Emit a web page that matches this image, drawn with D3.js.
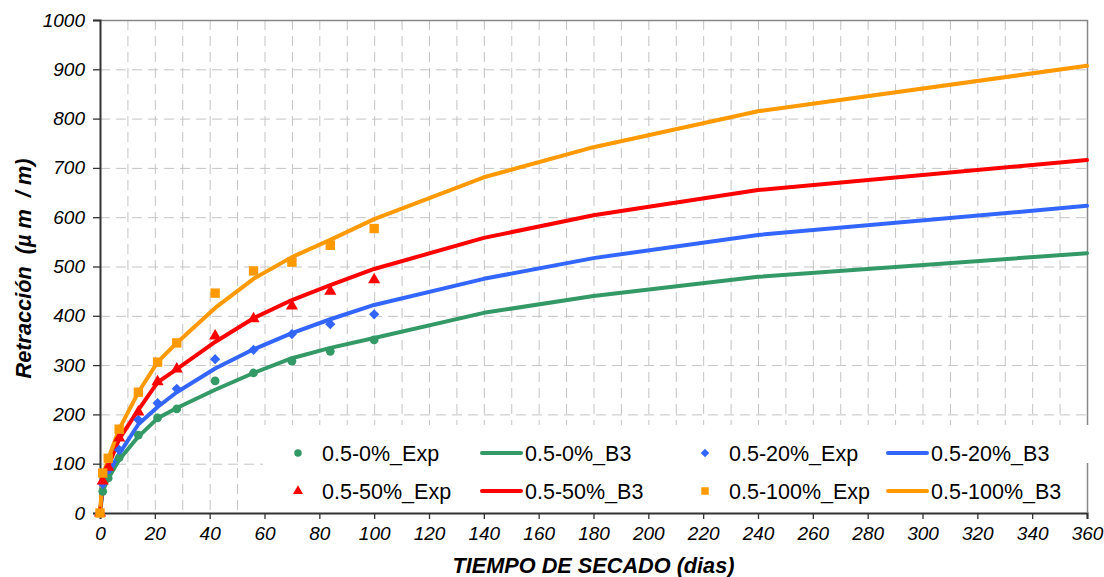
<!DOCTYPE html>
<html>
<head>
<meta charset="utf-8">
<script src="https://cdn.jsdelivr.net/npm/d3@7"></script>
<style>
  html, body { margin: 0; padding: 0; background: #fff; }
  svg { display: block; font-family: "Liberation Sans", Arial, sans-serif; }
</style>
</head>
<body>
<svg id="chart" width="1104" height="577"></svg>
<script>
// Drying days of the experimental readings
const expDays = [0, 1, 3, 7, 14, 21, 28, 42, 56, 70, 84, 100];
// Measured shrinkage (µm/m)
const exp0   = [0, 44, 71, 112, 158, 193, 211, 268, 284, 308, 328, 351];
const exp20  = [0, 59, 88, 128, 189, 223, 252, 312, 331, 363, 383, 403];
const exp50  = [0, 65, 93, 152, 205, 266, 292, 359, 394, 420, 450, 473];
const exp100 = [0, 81, 111, 170, 245, 306, 345, 446, 491, 509, 543, 577];

// Days at which the B3 model curve is evaluated
const modelDays = [0, 1, 3, 7, 14, 21, 28, 42, 56, 70, 84, 100, 140, 180, 240, 360];
// B3 model prediction (µm/m)
const b3_0   = [0, 45, 70, 108, 155, 192, 213, 250, 284, 314, 335, 355, 406, 440, 479, 527];
const b3_20  = [0, 55, 80, 120, 180, 215, 245, 293, 332, 365, 393, 422, 475, 517, 564, 623];
const b3_50  = [0, 60, 95, 150, 209, 265, 292, 347, 395, 432, 462, 495, 558, 604, 655, 716];
const b3_100 = [0, 75, 110, 170, 245, 306, 345, 416, 475, 519, 554, 596, 681, 742, 815, 907];

const xTicks = d3.range(0, 361, 20);
const yTicks = d3.range(0, 1001, 100);

const seriesExp = [
  { name: "0.5-0%_Exp",   values: exp0,   color: "#339966", shape: "circle" },
  { name: "0.5-20%_Exp",  values: exp20,  color: "#3366ff", shape: "diamond" },
  { name: "0.5-50%_Exp",  values: exp50,  color: "#ff0000", shape: "triangle" },
  { name: "0.5-100%_Exp", values: exp100, color: "#ff9900", shape: "square" }
];
const seriesB3 = [
  { name: "0.5-0%_B3",   values: b3_0,   color: "#339966" },
  { name: "0.5-20%_B3",  values: b3_20,  color: "#3366ff" },
  { name: "0.5-50%_B3",  values: b3_50,  color: "#ff0000" },
  { name: "0.5-100%_B3", values: b3_100, color: "#ff9900" }
];

const svg = d3.select("#chart");
const L = 100, R = 1087, T = 20, B = 513;

const x = d3.scaleLinear().domain([0, 360]).range([L, R]);
const y = d3.scaleLinear().domain([0, 1000]).range([B, T]);

// dashed grid: every 10 days and every 100 µm/m
const grid = svg.append("g").attr("stroke", "#c4c4c4").attr("stroke-width", 1)
  .attr("stroke-dasharray", "10,6");
grid.selectAll("line.v").data(d3.range(10, 360, 10)).join("line")
  .attr("x1", d => x(d) + 0.5).attr("x2", d => x(d) + 0.5)
  .attr("y1", T).attr("y2", B);
grid.selectAll("line.h").data(yTicks.filter(d => d > 0 && d < 1000)).join("line")
  .attr("x1", L).attr("x2", R)
  .attr("y1", d => y(d) + 0.5).attr("y2", d => y(d) + 0.5);

// frame top and right
svg.append("path")
  .attr("d", `M${L},${T + 0.5}H${R + 0.5}V${B}`)
  .attr("fill", "none").attr("stroke", "#888").attr("stroke-width", 1.5);

// axes
const xAxis = d3.axisBottom(x).tickValues(xTicks).tickFormat(d3.format("d")).tickSize(6).tickPadding(8);
const yAxis = d3.axisLeft(y).tickValues(yTicks).tickFormat(d3.format("d")).tickSize(7).tickPadding(8);

const gx = svg.append("g").attr("transform", `translate(0,${B})`).call(xAxis);
const gy = svg.append("g").attr("transform", `translate(${L},0)`).call(yAxis);
[gx, gy].forEach(g => {
  g.select(".domain").attr("stroke", "#333").attr("stroke-width", 2);
  g.selectAll(".tick line").attr("stroke", "#333").attr("stroke-width", 1.3);
  g.selectAll(".tick text")
    .attr("fill", "#000")
    .style("font-family", "'Liberation Sans', Arial, sans-serif")
    .style("font-size", "19px")
    .style("font-style", "italic");
});
gy.selectAll(".tick text").attr("x", -15);

// B3 model curves
const line = d3.line()
  .x((d, i) => x(modelDays[i]))
  .y(d => y(d))
  .curve(d3.curveLinear);

svg.append("g").selectAll("path").data(seriesB3).join("path")
  .attr("d", s => line(s.values))
  .attr("fill", "none")
  .attr("stroke", s => s.color)
  .attr("stroke-width", 4)
  .attr("stroke-linejoin", "round")
  .attr("stroke-linecap", "round");

// experimental markers (diamond = square turned 45°)
const symbolType = {
  circle: d3.symbolCircle,
  diamond: d3.symbolSquare,
  triangle: d3.symbolTriangle,
  square: d3.symbolSquare
};
const symbolRot = { circle: 0, diamond: 45, triangle: 0, square: 0 };
const symbolSize = { circle: 60, diamond: 52, triangle: 64, square: 88 };

seriesExp.forEach(s => {
  svg.append("g").selectAll("path").data(s.values).join("path")
    .attr("transform", (d, i) => `translate(${x(expDays[i])},${y(d)}) rotate(${symbolRot[s.shape]})`)
    .attr("d", d3.symbol().type(symbolType[s.shape]).size(symbolSize[s.shape]))
    .attr("fill", s.color);
});

// legend panel
svg.append("rect")
  .attr("x", 263).attr("y", 425).attr("width", 828).attr("height", 87)
  .attr("fill", "#fff");
svg.append("line")
  .attr("x1", R + 0.5).attr("x2", R + 0.5).attr("y1", 463).attr("y2", B)
  .attr("stroke", "#888").attr("stroke-width", 1.5);

const legendRows = [
  [seriesExp[0], seriesB3[0], seriesExp[1], seriesB3[1]],
  [seriesExp[2], seriesB3[2], seriesExp[3], seriesB3[3]]
];
const rowY = [453, 491];
const colX = [298, 482, 705, 888];
const legendSize = { circle: 44, diamond: 36, triangle: 44, square: 56 };

const lg = svg.append("g").style("font-size", "21.5px");
legendRows.forEach((row, r) => {
  row.forEach((s, c) => {
    const cx = colX[c], cy = rowY[r];
    if (s.shape) {
      lg.append("path")
        .attr("transform", `translate(${cx},${cy}) rotate(${symbolRot[s.shape]})`)
        .attr("d", d3.symbol().type(symbolType[s.shape]).size(legendSize[s.shape]))
        .attr("fill", s.color);
      lg.append("text").attr("x", cx + 24).attr("y", cy + 8).text(s.name);
    } else {
      lg.append("line")
        .attr("x1", cx).attr("x2", cx + 39).attr("y1", cy).attr("y2", cy)
        .attr("stroke", s.color).attr("stroke-width", 4)
        .attr("stroke-linecap", "round");
      lg.append("text").attr("x", cx + 43).attr("y", cy + 8).text(s.name);
    }
  });
});

// axis titles
svg.append("text")
  .attr("x", (L + R) / 2).attr("y", 573)
  .attr("text-anchor", "middle")
  .style("font-size", "21.7px").style("font-weight", "bold").style("font-style", "italic")
  .text("TIEMPO DE SECADO (dias)");

svg.append("text")
  .attr("transform", `translate(31,${(T + B) / 2 + 2}) rotate(-90)`)
  .attr("text-anchor", "middle")
  .style("font-size", "21.7px").style("font-weight", "bold").style("font-style", "italic")
  .style("white-space", "pre")
  .text("Retracción  (µ m  / m)");
</script>
</body>
</html>
